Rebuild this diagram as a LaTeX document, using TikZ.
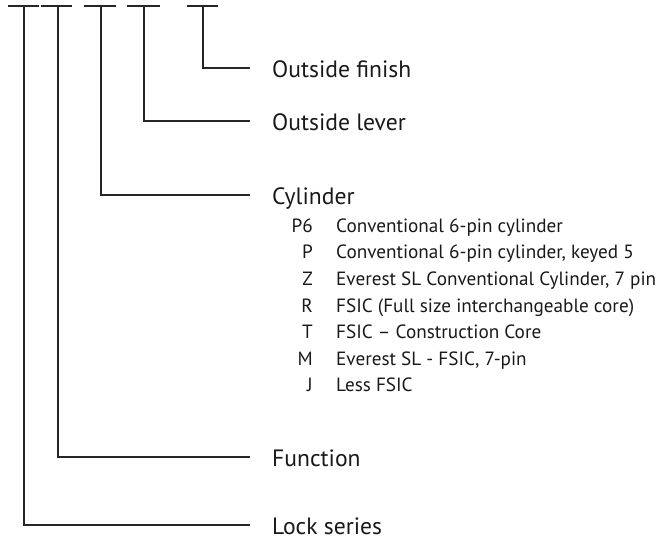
\documentclass[tikz,border=0pt]{standalone}
\usepackage{fontspec}
\setmainfont{PT Sans}
\newlength\tmpwa
\newlength\tmpwb
\begin{document}
\settowidth\tmpwa{\fontsize{10}{12}\selectfont Everest SL Conventional Cylinder, 7 pin}%
\settowidth\tmpwb{\fontsize{10}{12}\selectfont Outside finish}%
\pgfmathsetmacro\fs{10*320/\tmpwa}%
\pgfmathsetmacro\fm{10*139/\tmpwb}%
\pgfmathsetmacro\bs{\fs*0.35}%
\pgfmathsetmacro\bm{\fm*0.35}%
\begin{tikzpicture}[x=1pt,y=-1pt]
\tikzset{
  ln/.style={line width=1.1pt, draw=black!85, line cap=butt},
  mainlbl/.style={anchor=base west, inner sep=0pt, text=black!90, font=\fontsize{\fm}{\fm}\selectfont},
  codelbl/.style={anchor=base east, inner sep=0pt, text=black!90, font=\fontsize{\fs}{\fs}\selectfont},
  desclbl/.style={anchor=base west, inner sep=0pt, text=black!90, font=\fontsize{\fs}{\fs}\selectfont},
}
\path[use as bounding box] (0,0) rectangle (672,537);

% top bars
\coordinate (b1l) at (8,6);   \coordinate (b1r) at (39,6);
\coordinate (b2l) at (41,6);  \coordinate (b2r) at (72,6);
\coordinate (b3l) at (84,6);  \coordinate (b3r) at (116,6);
\coordinate (b4l) at (127,6); \coordinate (b4r) at (160,6);
\coordinate (b5l) at (187,6); \coordinate (b5r) at (218,6);
\foreach \i in {1,...,5} \draw[ln] (b\i l) -- (b\i r);

% stems
\coordinate (t1) at (24,6);
\coordinate (t2) at (58,6);
\coordinate (t3) at (101,6);
\coordinate (t4) at (144,6);
\coordinate (t5) at (203,6);

% elbow ends
\coordinate (e5) at (250,68);
\coordinate (e4) at (250,121);
\coordinate (e3) at (250,195);
\coordinate (e2) at (250,457);
\coordinate (e1) at (250,525);

\draw[ln] (t5) |- (e5);
\draw[ln] (t4) |- (e4);
\draw[ln] (t3) |- (e3);
\draw[ln] (t2) |- (e2);
\draw[ln] (t1) |- (e1);

% main labels
\node[mainlbl] (finish) at (272,{69.5+\bm}) {Outside finish};
\node[mainlbl] (lever) at (272,{122.5+\bm}) {Outside lever};
\node[mainlbl] (cyl) at (272,{196.5+\bm}) {Cylinder};
\node[mainlbl] (func) at (272,{458.5+\bm}) {Function};
\node[mainlbl] (lock) at (272,{526.5+\bm}) {Lock series};

% cylinder options
\foreach \c/\d [count=\k from 0] in {
  P6/Conventional 6-pin cylinder,
  P/{Conventional 6-pin cylinder, keyed 5},
  Z/{Everest SL Conventional Cylinder, 7 pin},
  R/FSIC (Full size interchangeable core),
  T/FSIC – Construction Core,
  M/{Everest SL - FSIC, 7-pin},
  J/Less FSIC}{
  \node[codelbl] (code\k) at (313,{225.5+26.6*\k+\bs}) {\c};
  \node[desclbl] (desc\k) at (336,{225.5+26.6*\k+\bs}) {\d};
}
\end{tikzpicture}
\end{document}
